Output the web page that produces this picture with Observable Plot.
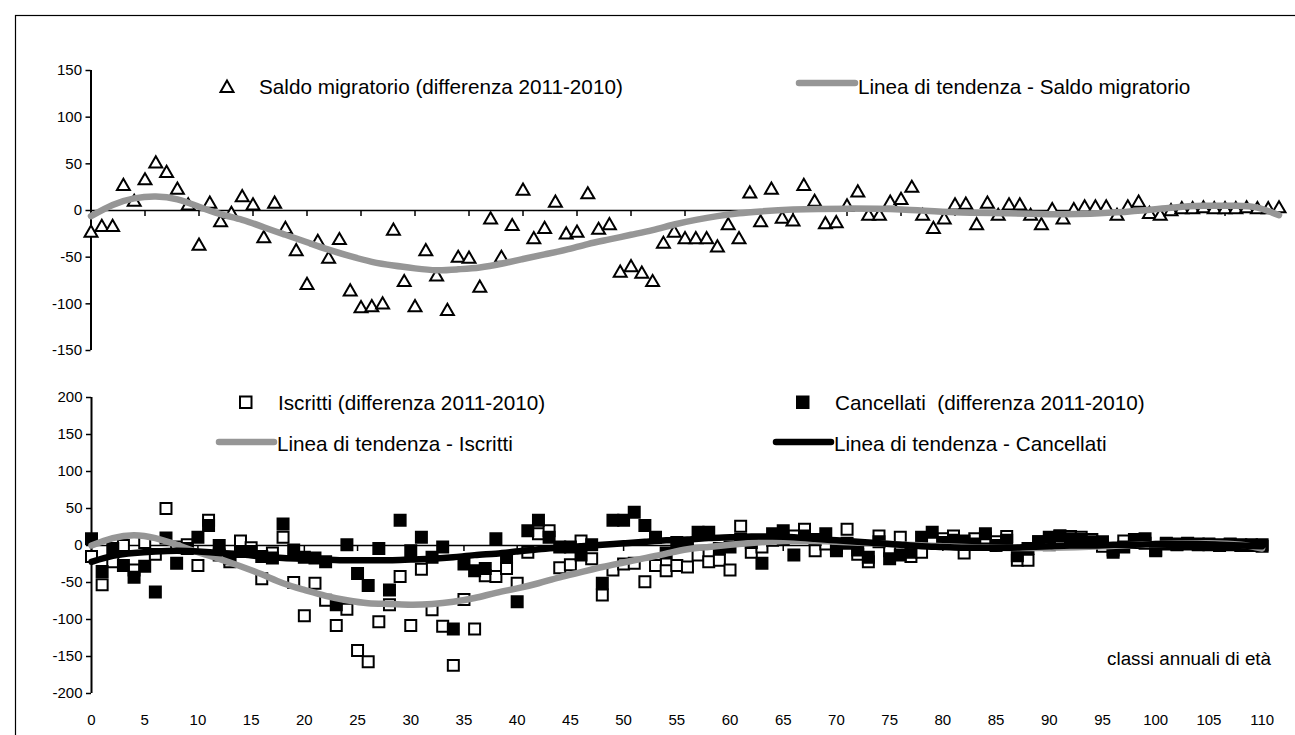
<!DOCTYPE html>
<html><head><meta charset="utf-8">
<script src="https://cdn.jsdelivr.net/npm/d3@7"></script>
<script src="https://cdn.jsdelivr.net/npm/@observablehq/plot@0.6"></script>
<style>
body{margin:0;background:#fff;}
#chart{position:relative;width:1295px;height:735px;overflow:hidden;background:#fff;font-family:"Liberation Sans",Arial,Helvetica,sans-serif;}
#chart svg{position:absolute;left:0;}
</style></head><body>
<div id="chart"></div>
<script>
// ---- data ----
const ages = [0,1,2,3,4,5,6,7,8,9,10,11,12,13,14,15,16,17,18,19,20,21,22,23,24,25,26,27,28,29,30,31,32,33,34,35,36,37,38,39,40,41,42,43,44,45,46,47,48,49,50,51,52,53,54,55,56,57,58,59,60,61,62,63,64,65,66,67,68,69,70,71,72,73,74,75,76,77,78,79,80,81,82,83,84,85,86,87,88,89,90,91,92,93,94,95,96,97,98,99,100,101,102,103,104,105,106,107,108,109,110];
const saldo = [-24,-18,-18,26,9,32,50,40,22,5,-38,7,-13,-4,14,5,-30,7,-20,-44,-80,-34,-52,-32,-87,-105,-104,-101,-22,-77,-104,-44,-71,-108,-51,-52,-83,-10,-51,-17,21,-31,-20,8,-26,-24,17,-21,-16,-67,-61,-68,-77,-36,-24,-31,-31,-31,-40,-16,-31,18,-13,22,-9,-12,26,9,-15,-14,4,19,-6,-6,8,11,24,-6,-20,-10,5,6,-16,7,-6,5,5,-6,-16,0,-10,0,3,3,3,-6,3,8,-4,-6,-1,1,1,2,1,1,1,2,1,1,2];
const iscritti = [-15,-53,-22,0,-33,4,-12,50,-2,1,-27,34,-13,-22,6,-3,-45,-10,11,-50,-95,-51,-74,-108,-86,-142,-157,-103,-80,-42,-108,-32,-87,-109,-162,-73,-113,-41,-42,-31,-51,-9,16,20,-30,-26,6,-18,-67,-33,-25,-24,-49,-27,-34,-27,-29,-13,-22,-20,-33,26,-9,-2,7,8,13,22,-7,2,-3,22,-12,-22,13,-7,11,-15,-9,8,9,13,-10,9,10,5,12,-20,-20,5,1,13,12,11,8,-1,-6,6,4,3,-7,3,2,3,2,2,1,2,1,1,1];
const cancellati = [9,-35,-4,-27,-43,-28,-63,10,-24,-4,11,27,0,-18,-8,-8,-15,-17,29,-6,-16,-17,-22,-80,1,-38,-54,-4,-60,34,-7,11,-16,-2,-113,-25,-34,-31,9,-16,-76,20,34,11,-2,-2,-13,1,-51,34,34,45,27,11,-10,4,2,18,18,-4,-2,8,4,-24,16,20,-13,13,8,16,-7,3,-6,-16,5,-18,-13,-9,11,18,4,7,6,2,16,0,7,-14,-4,5,11,13,9,8,5,5,-9,-2,8,9,-6,2,1,2,1,1,0,1,0,0,-1];
// trend lines
const trendSaldoAge = [0,2,4,6,8,10,12,14,16,18,20,22,24,26,28,30,32,34,36,38,40,42,44,46,48,50,52,54,56,58,60,62,65,70,75,80,85,90,95,100,103,106,108,110];
const trendSaldo    = [-6,6,13,15,12,4,-4,-10,-18,-26,-34,-42,-49,-55,-59,-62,-64,-63,-61,-57,-52,-47,-42,-36,-31,-26,-21,-15,-10,-6,-3,-1,1,2,1,-2,-3,-4,-2,3,5,5,3,-5];
const trendIscrAge = [0,2,4,6,8,10,12,14,16,18,20,22,24,26,28,30,32,34,36,38,40,42,44,46,48,50,52,54,56,58,60,65,70,75,80,85,90,95,100,105,108,110];
const trendIscr    = [0,10,14,10,1,-9,-18,-28,-39,-51,-60,-68,-74,-78,-79,-80,-79,-76,-71,-64,-58,-51,-43,-36,-29,-23,-17,-11,-5,-2,1,6,5,2,-1,-3,-3,-1,2,3,1,-4];
const trendCancAge = [0,2,4,6,8,10,12,14,16,18,20,22,24,26,28,30,32,34,36,38,40,42,44,46,48,50,52,54,56,58,60,62,64,66,68,70,72,74,76,78,80,82,84,86,88,90,92,94,96,98,100,102,104,106,108,110];
const trendCanc    = [-22,-14,-10,-8,-7,-8,-10,-12,-15,-17,-18,-19,-20,-20,-20,-19,-18,-16,-13,-11,-8,-5,-3,-1,1,3,5,7,8,10,11,12,12,11,9,7,5,3,1,-1,-2,-3,-3,-3,-2,-1,0,0,1,1,2,2,2,1,0,-1];
const xTicks = [0,5,10,15,20,25,30,35,40,45,50,55,60,65,70,75,80,85,90,95,100,105,110];
const yTicksTop = [-150,-100,-50,0,50,100,150];
const yTicksBottom = [-200,-150,-100,-50,0,50,100,150,200];

// ---- build ----
const FONT = '"Liberation Sans", Arial, Helvetica, sans-serif';
const GRAY = "#969696";
const LEG = "20.7px";
const tickMark = {draw(ctx){ ctx.moveTo(0,0); ctx.lineTo(0,5.5); }};
const rows = ages.map((a,i)=>({age:a, saldo:saldo[i], iscr:iscritti[i], canc:cancellati[i]}));
const tS = trendSaldoAge.map((a,i)=>({age:a, v:trendSaldo[i]}));
const tI = trendIscrAge.map((a,i)=>({age:a, v:trendIscr[i]}));
const tC = trendCancAge.map((a,i)=>({age:a, v:trendCanc[i]}));
const style = {fontFamily: FONT, fontSize: "15px", color: "#000", background: "transparent", overflow: "visible"};

const topPlot = Plot.plot({
  width: 1295, height: 370,
  marginLeft: 90.5, marginRight: 10, marginTop: 70, marginBottom: 20,
  x: {domain: [0, 110.6], axis: null},
  y: {domain: [-150, 150]},
  style,
  marks: [
    Plot.ruleY([0], {stroke: "#000", strokeWidth: 1.5}),
    Plot.dot(xTicks, {x: d=>d, y: 0, symbol: tickMark, fill: "none", stroke: "#000", strokeWidth: 1.5}),
    Plot.ruleX([0], {stroke: "#000", strokeWidth: 2}),
    Plot.axisY({ticks: yTicksTop, tickSize: 5, tickPadding: 4, tickFormat: d=>String(d), strokeWidth: 1.5, label: null}),
    Plot.dot(rows, {x: "age", y: "saldo", symbol: "triangle", r: 4.8, fill: "#fff", stroke: "#000", strokeWidth: 2}),
    Plot.line(tS, {x: "age", y: "v", curve: "natural", stroke: GRAY, strokeWidth: 6.5})
  ]
});
topPlot.style.top = "0px";

const botPlot = Plot.plot({
  width: 1295, height: 365,
  marginLeft: 91, marginRight: 27, marginTop: 27, marginBottom: 42,
  x: {domain: [0, 110.6]},
  y: {domain: [-200, 200]},
  style,
  marks: [
    Plot.ruleY([0], {stroke: "#000", strokeWidth: 1.5}),
    Plot.dot(xTicks, {x: d=>d, y: 0, symbol: tickMark, fill: "none", stroke: "#000", strokeWidth: 1.5}),
    Plot.ruleX([0], {stroke: "#000", strokeWidth: 2}),
    Plot.axisY({ticks: yTicksBottom, tickSize: 5, tickPadding: 4, tickFormat: d=>String(d), strokeWidth: 1.5, label: null}),
    Plot.axisX({anchor: "bottom", ticks: xTicks, tickSize: 0, tickPadding: 21, tickFormat: d=>String(d), label: null}),
    Plot.dot(rows, {x: "age", y: "iscr", symbol: "square", r: 6.2, fill: "#fff", stroke: "#000", strokeWidth: 2}),
    Plot.dot(rows, {x: "age", y: "canc", symbol: "square", r: 6.2, fill: "#000", stroke: "#000", strokeWidth: 2}),
    Plot.line(tI, {x: "age", y: "v", curve: "natural", stroke: GRAY, strokeWidth: 6.5}),
    Plot.line(tC, {x: "age", y: "v", curve: "natural", stroke: "#000", strokeWidth: 6.5})
  ]
});
botPlot.style.top = "370px";

const chart = document.getElementById("chart");
chart.appendChild(topPlot);
chart.appendChild(botPlot);

// ---- overlay: frame border and legends ----
const ns = "http://www.w3.org/2000/svg";
const ov = document.createElementNS(ns, "svg");
ov.setAttribute("width", 1295); ov.setAttribute("height", 735);
ov.style.top = "0px"; ov.style.pointerEvents = "none";
ov.setAttribute("font-family", FONT);
function el(tag, attrs, text){ const e = document.createElementNS(ns, tag); for (const k in attrs) e.setAttribute(k, attrs[k]); if (text != null) e.textContent = text; ov.appendChild(e); return e; }
el("rect", {x: 15.5, y: 15.5, width: 1400, height: 900, fill: "none", stroke: "#000", "stroke-width": 1.2});
// top legend
el("polygon", {points: "227,80.5 220.5,92 233.5,92", fill: "#fff", stroke: "#000", "stroke-width": 2});
el("text", {x: 259, y: 93.5, "font-size": LEG}, "Saldo migratorio (differenza 2011-2010)");
el("line", {x1: 799, y1: 83, x2: 855, y2: 83, stroke: GRAY, "stroke-width": 6.5, "stroke-linecap": "round"});
el("text", {x: 858, y: 93.5, "font-size": LEG}, "Linea di tendenza - Saldo migratorio");
// bottom legend
el("rect", {x: 240, y: 396.5, width: 11.5, height: 11.5, fill: "#fff", stroke: "#000", "stroke-width": 2});
el("text", {x: 278, y: 409.5, "font-size": LEG}, "Iscritti (differenza 2011-2010)");
el("rect", {x: 797, y: 396.5, width: 11.5, height: 11.5, fill: "#000", stroke: "#000", "stroke-width": 2});
el("text", {x: 835, y: 409.5, "font-size": LEG, "xml:space": "preserve", style: "white-space:pre"}, "Cancellati  (differenza 2011-2010)");
el("line", {x1: 219, y1: 442, x2: 274, y2: 442, stroke: GRAY, "stroke-width": 6.5, "stroke-linecap": "round"});
el("text", {x: 277, y: 450.5, "font-size": LEG}, "Linea di tendenza - Iscritti");
el("line", {x1: 776, y1: 442, x2: 831, y2: 442, stroke: "#000", "stroke-width": 6.5, "stroke-linecap": "round"});
el("text", {x: 834, y: 450.5, "font-size": LEG}, "Linea di tendenza - Cancellati");
el("text", {x: 1271, y: 665, "font-size": "18.8px", "text-anchor": "end"}, "classi annuali di età");
chart.appendChild(ov);
</script>
</body></html>
